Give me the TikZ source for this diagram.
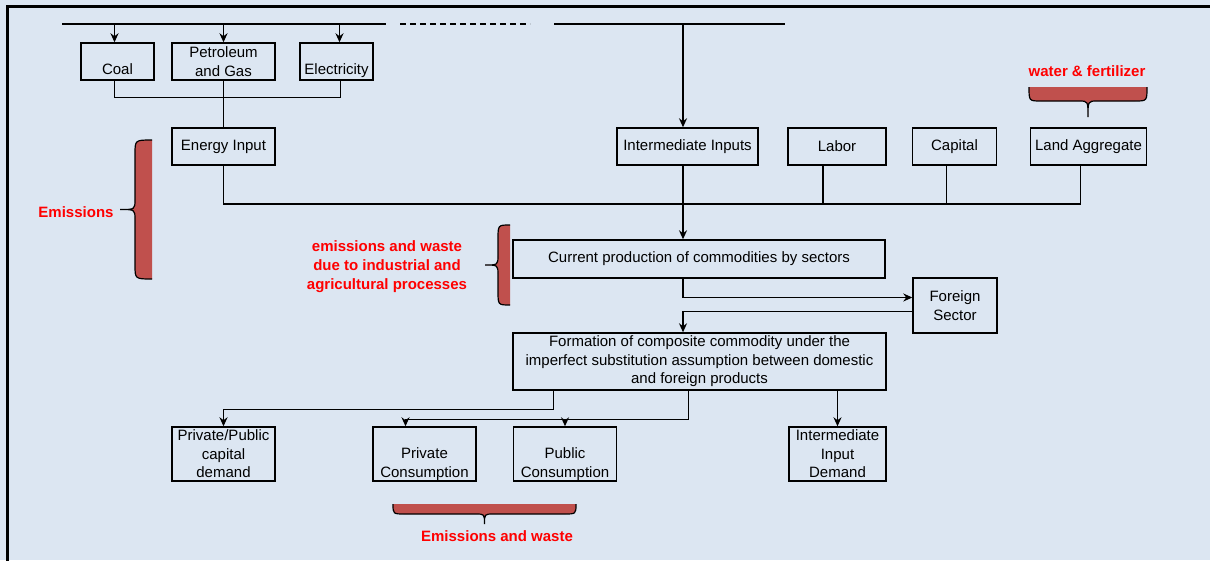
\documentclass[tikz,border=0pt]{standalone}
\usepackage{fontspec}
\setmainfont{Liberation Sans}
\usetikzlibrary{arrows.meta}
\definecolor{bgblue}{RGB}{220,230,242}
\definecolor{bracered}{RGB}{192,80,77}
\definecolor{labelred}{RGB}{255,0,0}
\newcommand{\bracedown}[5]{%
  \fill[bracered] (#1,#3) .. controls (#1,{#3+#4}) .. ({#1+12},{#3+#4})
    -- ({(#1+#2)/2-9},{#3+#4}) .. controls ({(#1+#2)/2},{#3+#4}) .. ({(#1+#2)/2},{#3+#5})
    .. controls ({(#1+#2)/2},{#3+#4}) .. ({(#1+#2)/2+9},{#3+#4})
    -- ({#2-12},{#3+#4}) .. controls (#2,{#3+#4}) .. (#2,#3) -- cycle;
  \draw[line width=1.2pt] (#1,#3) .. controls (#1,{#3+#4}) .. ({#1+12},{#3+#4})
    -- ({(#1+#2)/2-9},{#3+#4}) .. controls ({(#1+#2)/2},{#3+#4}) .. ({(#1+#2)/2},{#3+#5})
    .. controls ({(#1+#2)/2},{#3+#4}) .. ({(#1+#2)/2+9},{#3+#4})
    -- ({#2-12},{#3+#4}) .. controls (#2,{#3+#4}) .. (#2,#3);}
\newcommand{\braceleft}[5]{%
  \fill[bracered] (#1,#2) .. controls ({#1-#4},#2) .. ({#1-#4},{#2+14})
    -- ({#1-#4},{(#2+#3)/2-10}) .. controls ({#1-#4},{(#2+#3)/2}) .. ({#1-#5},{(#2+#3)/2})
    .. controls ({#1-#4},{(#2+#3)/2}) .. ({#1-#4},{(#2+#3)/2+10})
    -- ({#1-#4},{#3-14}) .. controls ({#1-#4},#3) .. (#1,#3) -- cycle;
  \draw[line width=1.2pt] (#1,#2) .. controls ({#1-#4},#2) .. ({#1-#4},{#2+14})
    -- ({#1-#4},{(#2+#3)/2-10}) .. controls ({#1-#4},{(#2+#3)/2}) .. ({#1-#5},{(#2+#3)/2})
    .. controls ({#1-#4},{(#2+#3)/2}) .. ({#1-#4},{(#2+#3)/2+10})
    -- ({#1-#4},{#3-14}) .. controls ({#1-#4},#3) .. (#1,#3);}
\begin{document}
\begin{tikzpicture}[x=1pt,y=-1pt,
    blk/.style={draw, line width=1.4pt, align=center, inner sep=0pt, font=\fontsize{15}{18.5}\selectfont},
    lbl/.style={text=labelred, align=center, font=\fontsize{15}{19}\selectfont\bfseries},
    wire/.style={line width=1.5pt},
    arr/.style={wire, -{Stealth[length=9pt,width=8pt]}}]
    \fill[bgblue] (0,0) rectangle (1210,560);
    \useasboundingbox (0,0) rectangle (1210,560);
    \draw[line width=2.5pt] (7.5,565) -- (7.5,6.5) -- (1215,6.5);
    \coordinate (busA) at (62,24);
    \coordinate (busB) at (386,24);
    \coordinate (dashA) at (400,24);
    \coordinate (dashB) at (530,24);
    \coordinate (busC) at (554,24);
    \coordinate (busD) at (785,24);
    \coordinate (trunk) at (683,0);
    \coordinate (bus) at (0,204);
    \coordinate (cons) at (0,419);
    \draw[wire] (busA) -- (busB);
    \draw[wire, dash pattern=on 6pt off 4pt] (dashA) -- (dashB);
    \draw[wire] (busC) -- (busD);
    \node[blk, minimum width=73pt, minimum height=37pt] (coal) at (117.5,61.5) {\strut\\Coal\strut};
    \node[blk, minimum width=103pt, minimum height=37pt] (petrol) at (223.5,61.5) {Petroleum\\and Gas};
    \node[blk, minimum width=73pt, minimum height=37pt] (elec) at (336.5,61.5) {\strut\\Electricity\strut};
    \node[blk, minimum width=103pt, minimum height=37pt] (energy) at (223.5,146.5) {Energy Input};
    \node[blk, minimum width=141pt, minimum height=37pt] (inter) at (687.5,146.5) {Intermediate Inputs};
    \node[blk, minimum width=98pt, minimum height=37pt] (labor) at (837,146.5) {Labor};
    \node[blk, minimum width=84pt, minimum height=37pt] (capital) at (954.5,146.5) {Capital};
    \node[blk, minimum width=116pt, minimum height=37pt] (land) at (1088.5,146.5) {Land Aggregate};
    \node[blk, minimum width=372pt, minimum height=38pt] (curr) at (699,259) {Current production of commodities by sectors};
    \node[blk, minimum width=84pt, minimum height=55pt] (foreign) at (955,305.5) {Foreign\\Sector};
    \node[blk, minimum width=373pt, minimum height=57pt] (form) at (699.5,361.5) {Formation of composite commodity under the\\imperfect substitution assumption between domestic\\and foreign products};
    \node[blk, minimum width=103pt, minimum height=54pt] (ppcap) at (223.5,454) {Private/Public\\capital\\demand};
    \node[blk, minimum width=103pt, minimum height=54pt] (privc) at (424.5,454) {\strut\\Private\\Consumption};
    \node[blk, minimum width=103pt, minimum height=54pt] (pubc) at (565,454) {\strut\\Public\\Consumption};
    \node[blk, minimum width=97pt, minimum height=54pt] (iid) at (837.5,454) {Intermediate\\Input\\Demand};
    \draw[arr] ([xshift=-3pt]coal.north |- busA) -- ([xshift=-3pt]coal.north);
    \draw[arr] (petrol.north |- busA) -- (petrol.north);
    \draw[arr] ([xshift=3pt]elec.north |- busA) -- ([xshift=3pt]elec.north);
    \draw[wire] ([xshift=-3pt]coal.south) -- ++(0,17) -| ([xshift=4pt]elec.south);
    \draw[wire] (petrol.south) -- (energy.north);
    \draw[wire] (energy.south) |- ([xshift=-8pt]land.south |- bus) -- ([xshift=-8pt]land.south);
    \draw[wire] ([xshift=-14pt]labor.south) -- ([xshift=-14pt]labor.south |- bus);
    \draw[wire] ([xshift=-8pt]capital.south) -- ([xshift=-8pt]capital.south |- bus);
    \draw[arr] (trunk |- busC) -- (trunk |- inter.north);
    \draw[arr] (trunk |- inter.south) -- (trunk |- curr.north);
    \draw[arr] (trunk |- curr.south) |- ([yshift=8pt]foreign.west);
    \draw[arr] ([yshift=-6pt]foreign.west) -| (trunk |- form.north);
    \draw[arr] ([xshift=-146pt]form.south) -- ++(0,19) -| (ppcap.north);
    \draw[arr] ([xshift=-11pt]form.south) -- ++(0,29) -| ([xshift=-19pt]privc.north);
    \draw[arr] (pubc.north |- cons) -- (pubc.north);
    \draw[arr] (form.south -| iid.north) -- (iid.north);
    \bracedown{1029}{1147}{87}{14}{30}
    \node[lbl] (water) at (1087,71) {water \& fertilizer};
    \braceleft{152}{140}{279}{17}{32}
    \node[lbl] (emis) at (76,212) {Emissions};
    \braceleft{510}{225}{305}{12}{25}
    \node[lbl] (proc) at (387,267) {emissions and waste\\due to industrial and\\agricultural processes};
    \bracedown{393}{576}{504}{10}{20}
    \node[lbl] (waste) at (497,536) {Emissions and waste};
\end{tikzpicture}
\end{document}
